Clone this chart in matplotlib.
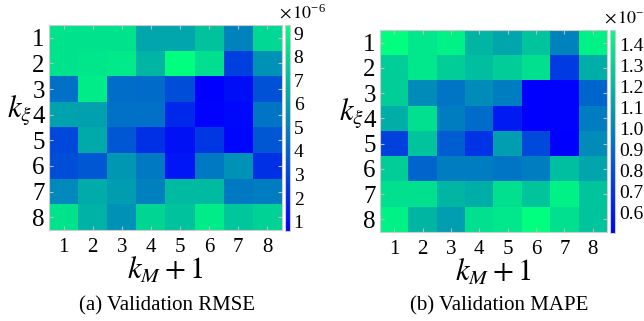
import matplotlib
matplotlib.use("Agg")
import matplotlib.pyplot as plt
import numpy as np

plt.rcParams['font.family'] = ['Liberation Serif', 'DejaVu Serif']
plt.rcParams['mathtext.fontset'] = 'stix'

k_labels = [1, 2, 3, 4, 5, 6, 7, 8]

# validation RMSE, units of 1e-6 (rows k_xi = 1..8, cols k_M+1 = 1..8)
rmse = np.array([
    [8.4, 8.4, 8.4, 6.3, 6.3, 7.3, 5.1, 8.0],
    [8.4, 8.5, 8.6, 6.8, 9.35, 8.2, 2.8, 5.6],
    [4.5, 8.7, 4.4, 4.3, 3.3, 0.62, 1.1, 3.4],
    [6.2, 6.1, 4.5, 4.5, 2.0, 0.7, 0.9, 4.6],
    [3.1, 6.4, 3.6, 2.3, 1.2, 2.5, 0.8, 3.6],
    [3.3, 3.6, 5.8, 4.8, 1.4, 4.8, 5.6, 2.3],
    [5.3, 6.5, 6.0, 5.0, 7.0, 7.0, 4.8, 4.9],
    [8.4, 6.7, 5.6, 7.9, 7.3, 8.7, 7.4, 7.8],
])

# validation MAPE, units of 1e-3
mape = np.array([
    [1.47, 1.38, 1.42, 1.19, 1.13, 1.25, 1.00, 1.42],
    [1.28, 1.38, 1.28, 1.22, 1.28, 1.35, 0.72, 1.16],
    [1.28, 1.03, 0.94, 1.03, 0.97, 0.50, 0.51, 0.88],
    [1.16, 1.35, 0.97, 0.91, 0.60, 0.50, 0.51, 0.97],
    [0.75, 1.25, 0.85, 0.69, 1.10, 0.78, 0.50, 1.03],
    [1.28, 0.88, 0.97, 0.97, 0.94, 0.97, 1.22, 1.13],
    [1.35, 1.35, 1.19, 1.16, 1.35, 1.25, 1.42, 1.25],
    [1.42, 1.19, 1.10, 1.35, 1.38, 1.47, 1.35, 1.25],
])

rmse_ticks = [1, 2, 3, 4, 5, 6, 7, 8, 9]
mape_ticks = [0.6, 0.7, 0.8, 0.9, 1.0, 1.1, 1.2, 1.3, 1.4]

W, H = 644, 321
fig = plt.figure(figsize=(W / 100, H / 100), dpi=100)


def px_axes(x0, y0, x1, y1):
    return fig.add_axes([x0 / W, 1 - y1 / H, (x1 - x0) / W, (y1 - y0) / H])


def panel(data, box, cbox, cticks, cfmt, mult, mult_xy, caption, cap_x):
    ax = px_axes(*box)
    im = ax.imshow(data, cmap='winter', aspect='auto', interpolation='nearest',
                   extent=(0.5, 8.5, 8.5, 0.5))
    ax.set_xticks(k_labels)
    ax.set_yticks(k_labels)
    ax.set_xticklabels(k_labels, fontsize=15)
    ax.set_yticklabels(k_labels, fontsize=18)
    ax.tick_params(direction='in', length=3, color='#bbbbbb',
                   top=True, right=True)
    ax.tick_params(axis='x', pad=6)
    ax.tick_params(axis='y', pad=3)
    for s in ax.spines.values():
        s.set_color('#cccccc')
        s.set_linewidth(0.8)
    ax.set_xlabel(r'$k_M+1$', fontsize=22, labelpad=-1)
    ax.set_ylabel(r'$k_\xi$', fontsize=22, rotation=0)
    ax.yaxis.set_label_coords(-0.125, 0.5)

    cax = px_axes(*cbox)
    cb = fig.colorbar(im, cax=cax, ticks=cticks)
    cb.ax.set_yticklabels([cfmt.format(t) for t in cticks], fontsize=14)
    cb.ax.tick_params(length=0, pad=3)
    cb.outline.set_edgecolor('#cccccc')
    cb.outline.set_linewidth(0.8)
    fig.text(mult_xy[0] / W, 1 - mult_xy[1] / H, mult, fontsize=13,
             ha='left', va='baseline')
    fig.text(cap_x / W, 1 - 310 / H, caption, fontsize=15,
             ha='center', va='baseline')


panel(rmse, (49, 25, 282, 230), (285, 25, 289.5, 230.5), rmse_ticks, '{:g}',
      r'$\times\,10^{\mathregular{-6}}$', (279, 19), '(a) Validation RMSE', 167)
panel(mape, (380, 30, 607, 232), (610, 30, 615, 233), mape_ticks, '{:.1f}',
      r'$\times\,10^{\mathregular{-3}}$', (604, 24), '(b) Validation MAPE', 499)

fig.savefig('out.png', dpi=100)
